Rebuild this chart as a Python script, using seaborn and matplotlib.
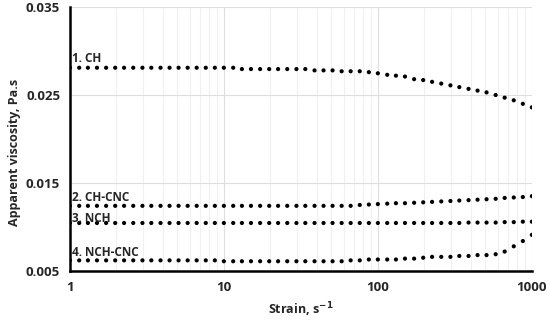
import numpy as np
import pandas as pd
import seaborn as sns
import matplotlib.pyplot as plt
from matplotlib.ticker import FixedLocator, LogLocator, NullFormatter

# shear rate, 17 points per decade
strain = [1.00, 1.15, 1.31, 1.50, 1.72, 1.97, 2.25, 2.58, 2.96, 3.38, 3.88, 4.44, 5.08, 5.82, 6.66, 7.63, 8.74,
          10.0, 11.5, 13.1, 15.0, 17.2, 19.7, 22.5, 25.8, 29.6, 33.8, 38.8, 44.4, 50.8, 58.2, 66.6, 76.3, 87.4,
          100, 115, 131, 150, 172, 197, 225, 258, 296, 338, 388, 444, 508, 582, 666, 763, 874, 1000]

ch = [0.0281] * 19 + [0.02795] * 8 + [0.0278, 0.0278, 0.0278, 0.0277, 0.0277, 0.0277, 0.0276,
      0.02747, 0.0273, 0.0272, 0.0271, 0.0268, 0.0267, 0.0265, 0.0263, 0.0261, 0.0259, 0.0257,
      0.0255, 0.0253, 0.0250, 0.0247, 0.0244, 0.0240, 0.0236]
ch_cnc = [0.0124] * 32 + [0.0125, 0.01255, 0.0126, 0.01265, 0.0127, 0.0127, 0.01275, 0.0128, 0.01285,
          0.0129, 0.01295, 0.0130, 0.01305, 0.0131, 0.01315, 0.0132, 0.0133, 0.01335, 0.0134, 0.0135]
nch = [0.01045] * 44 + [0.0105, 0.0105, 0.0105, 0.0105, 0.01055, 0.01055, 0.0106, 0.0106]
nch_cnc = [0.0062] * 17 + [0.0061] * 14 + [0.0062, 0.0062, 0.0063, 0.0063, 0.0063, 0.0063, 0.0064,
           0.0064, 0.0065, 0.0066, 0.0066, 0.0066, 0.0067, 0.0067, 0.0068, 0.0068, 0.0069, 0.0072,
           0.0078, 0.0084, 0.0091]

names = ['1. CH', '2. CH-CNC', '3. NCH', '4. NCH-CNC']
label_y = [0.0292, 0.0133, 0.0110, 0.00705]

df = pd.DataFrame({'Strain': strain, names[0]: ch, names[1]: ch_cnc, names[2]: nch, names[3]: nch_cnc})
df = df.melt(id_vars='Strain', var_name='Sample', value_name='Viscosity')

sns.set_style('white')
plt.rcParams['font.family'] = ['Open Sans', 'DejaVu Sans']

fig = plt.figure(figsize=(5.5, 3.21), dpi=100)
ax = fig.add_axes([0.127, 0.156, 0.840, 0.822])

sns.scatterplot(data=df, x='Strain', y='Viscosity', hue='Sample',
                palette=['black'] * 4, s=9, linewidth=0, legend=False, ax=ax)

ax.set_xscale('log')
ax.set_xlim(1, 1000)
ax.set_ylim(0.005, 0.035)
ax.yaxis.set_major_locator(FixedLocator([0.005, 0.015, 0.025, 0.035]))
ax.xaxis.set_major_locator(FixedLocator([1, 10, 100, 1000]))
ax.xaxis.set_minor_locator(LogLocator(base=10, subs=np.arange(2, 10)))
ax.xaxis.set_minor_formatter(NullFormatter())
ax.set_xticklabels(['1', '10', '100', '1000'])
ax.set_yticklabels(['0.005', '0.015', '0.025', '0.035'])

ax.grid(True, which='major', color='#dedede', linewidth=0.8)
ax.grid(True, which='minor', axis='x', color='#f0f0f0', linewidth=0.8)
ax.tick_params(length=0, labelsize=9.5, pad=7)
for t in ax.get_xticklabels() + ax.get_yticklabels():
    t.set_fontweight('bold')

for s in ['top', 'right']:
    ax.spines[s].set_visible(False)
for s in ['left', 'bottom']:
    ax.spines[s].set_color('black')
    ax.spines[s].set_linewidth(1.8)

for name, y in zip(names, label_y):
    ax.text(1.03, y, name, fontsize=8.5, fontweight='bold', ha='left', va='center')

ax.set_xlabel('Strain, s$^{\\mathbf{-1}}$', fontsize=9, fontweight='bold', labelpad=5)
ax.set_ylabel('Apparent viscosity, Pa.s', fontsize=9, fontweight='bold')
ax.yaxis.set_label_coords(-0.105, 0.45)

fig.savefig('out.png', dpi=100)
